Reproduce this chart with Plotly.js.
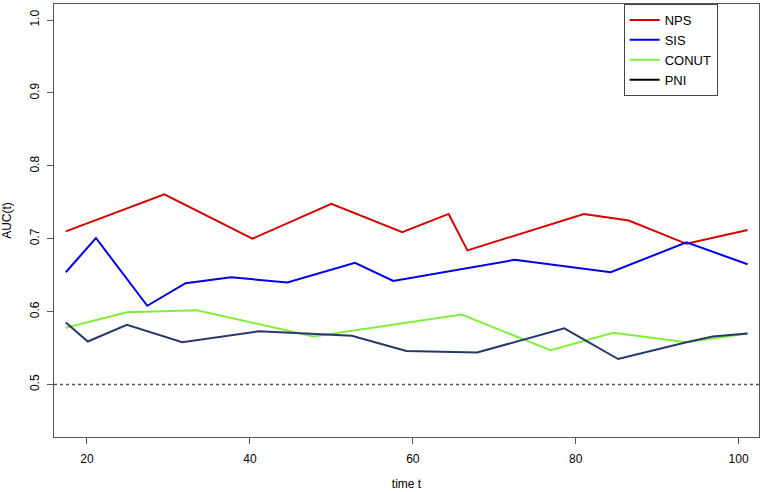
<!DOCTYPE html>
<html>
<head>
<meta charset="utf-8">
<script src="https://cdn.plot.ly/plotly-3.0.1.min.js"></script>
<style>
  html, body { margin: 0; padding: 0; background: #fff; }
  #auc_plot { width: 765px; height: 492px; }
</style>
</head>
<body>
<div id="auc_plot"></div>
<script>
// time-dependent AUC values
const nps_t = [17.4, 29.5, 40.3, 50.0, 58.7, 64.4, 66.7, 81.0, 86.5, 93.6, 101.1],
  nps_auc = [0.710, 0.761, 0.700, 0.748, 0.709, 0.734, 0.684, 0.734, 0.725, 0.693, 0.712];

const sis_t = [17.4, 21.1, 27.4, 32.1, 37.7, 44.6, 52.9, 57.6, 72.5, 84.3, 93.6, 101.1],
  sis_auc = [0.654, 0.701, 0.608, 0.639, 0.647, 0.640, 0.667, 0.642, 0.671, 0.654, 0.695, 0.665];

const conut_t = [17.4, 24.9, 33.5, 47.8, 66.0, 76.9, 84.6, 93.6, 101.1],
  conut_auc = [0.578, 0.599, 0.602, 0.566, 0.596, 0.547, 0.571, 0.558, 0.570];

const pni_t = [17.4, 20.1, 24.9, 31.7, 41.1, 52.5, 59.2, 67.9, 78.6, 85.2, 93.6, 96.8, 101.1],
  pni_auc = [0.585, 0.559, 0.582, 0.558, 0.573, 0.567, 0.546, 0.544, 0.577, 0.535, 0.558, 0.566, 0.570];

const y_ticks = [0.5, 0.6, 0.7, 0.8, 0.9, 1.0],
  x_ticks = [20, 40, 60, 80, 100];

const FONT = "Liberation Sans, Arial, Helvetica, sans-serif";

function line_trace(x, y, name, color, in_legend) {
  return {
    x: x,
    y: y,
    name: name,
    mode: 'lines',
    type: 'scatter',
    showlegend: in_legend,
    line: { color: color, width: 2 }
  };
}

var data = [
  line_trace(nps_t, nps_auc, 'NPS', '#d60000', true),
  line_trace(sis_t, sis_auc, 'SIS', '#0000e6', true),
  line_trace(conut_t, conut_auc, 'CONUT', '#82ee3c', true),
  line_trace(pni_t, pni_auc, 'PNI', '#26386a', false),
  // the original legend shows PNI in black, unlike its drawn line
  line_trace([null], [null], 'PNI', '#000', true)
];

var axis_common = {
  showline: true,
  mirror: true,
  linecolor: '#555',
  linewidth: 1,
  ticks: 'outside',
  ticklen: 6,
  tickcolor: '#555',
  ticklabelstandoff: 3,
  showgrid: false,
  zeroline: false,
  tickfont: { family: FONT, size: 12, color: '#000' }
};

var layout = {
  width: 765,
  height: 492,
  margin: { l: 54, r: 6, t: 4, b: 55 },
  paper_bgcolor: '#fff',
  plot_bgcolor: '#fff',
  font: { family: FONT, color: '#000' },
  xaxis: Object.assign({}, axis_common, {
    range: [15.95, 102.5],
    tickvals: x_ticks,
    ticklabelstandoff: 5,
    title: { text: 'time t', font: { family: FONT, size: 12 }, standoff: 14 }
  }),
  yaxis: Object.assign({}, axis_common, {
    range: [0.428, 1.022],
    tickvals: y_ticks,
    tickformat: '.1f',
    tickangle: -90,
    title: { text: 'AUC(t)', font: { family: FONT, size: 12 }, standoff: 14 }
  }),
  shapes: [{
    type: 'line',
    xref: 'paper', x0: 0, x1: 1,
    yref: 'y', y0: 0.5, y1: 0.5,
    line: { color: '#555', width: 1.5, dash: 'dot' }
  }],
  showlegend: true,
  legend: {
    x: 0.808, y: 1, xanchor: 'left', yanchor: 'top',
    bgcolor: '#fff',
    bordercolor: '#444',
    borderwidth: 1,
    font: { family: FONT, size: 13, color: '#000' },
    tracegroupgap: 0
  }
};

Plotly.newPlot('auc_plot', data, layout, { displayModeBar: false, staticPlot: true });
</script>
</body>
</html>
